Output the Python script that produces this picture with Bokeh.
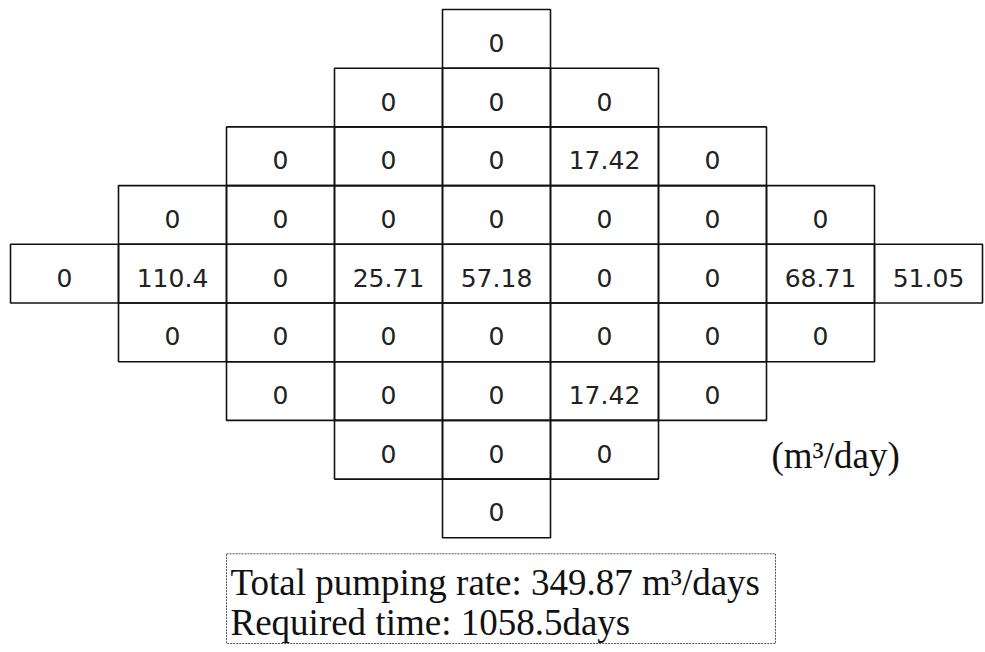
from bokeh.plotting import figure
from bokeh.models import Range1d, ColumnDataSource
from bokeh.core.properties import value
from bokeh.embed import file_html
from bokeh.resources import INLINE

# Pumping rate of each cell, row by row (top to bottom), diamond layout
row_values = [
    [0],
    [0, 0, 0],
    [0, 0, 0, 17.42, 0],
    [0, 0, 0, 0, 0, 0, 0],
    [0, 110.4, 0, 25.71, 57.18, 0, 0, 68.71, 51.05],
    [0, 0, 0, 0, 0, 0, 0],
    [0, 0, 0, 17.42, 0],
    [0, 0, 0],
    [0],
]
unit_label = "(m³/day)"
summary_lines = ["Total pumping rate: 349.87 m³/days", "Required time: 1058.5days"]

W, H = 985, 652
X0, CW = 10.0, 108.0
Y0, RH = 9.0, 58.7
center_col = 4

left, right, top, bottom, cx, cy, labels = [], [], [], [], [], [], []
for r, vals in enumerate(row_values):
    n = len(vals)
    start = center_col - (n - 1) // 2
    for k, v in enumerate(vals):
        c = start + k
        l = X0 + c * CW
        t = Y0 + r * RH
        left.append(l)
        right.append(l + CW)
        top.append(t)
        bottom.append(t + RH)
        cx.append(l + CW / 2)
        cy.append(t + RH / 2 + 4)
        labels.append(f"{v:g}")

src = ColumnDataSource(dict(left=left, right=right, top=top, bottom=bottom,
                            cx=cx, cy=cy, label=labels))

p = figure(width=W, height=H, x_range=Range1d(0, W), y_range=Range1d(H, 0),
           output_backend="svg", toolbar_location=None, min_border=0)
p.axis.visible = False
p.grid.visible = False
p.outline_line_color = None
p.background_fill_color = "white"
p.border_fill_color = "white"

p.quad(left="left", right="right", top="top", bottom="bottom", source=src,
       fill_color=None, line_color="#111111", line_width=1.6)
p.text(x="cx", y="cy", text="label", source=src,
       text_font=value("DejaVu Sans"), text_font_size="25px",
       text_align="center", text_baseline="middle", text_color="#222222")

# unit label
p.text(x=[X0 + 7 * CW + 5], y=[Y0 + 7 * RH + RH / 2 + 6], text=[unit_label],
       text_font=value("Liberation Serif"), text_font_size="37px",
       text_align="left", text_baseline="alphabetic", text_color="#111111")

# summary box
box_l = X0 + 2 * CW
box_r = box_l + 549
box_t = Y0 + 9 * RH + 16
box_b = H - 9
p.quad(left=[box_l], right=[box_r], top=[box_t], bottom=[box_b],
       fill_color=None, line_color="#555555", line_width=1, line_dash="2 1")
line_y = [box_t + 29, box_t + 69]
p.text(x=[box_l + 4] * len(summary_lines), y=line_y, text=summary_lines,
       text_font=value("Liberation Serif"), text_font_size="37px",
       text_align="left", text_baseline="alphabetic", text_color="#111111")

open("out.html", "w").write(file_html(p, INLINE))
